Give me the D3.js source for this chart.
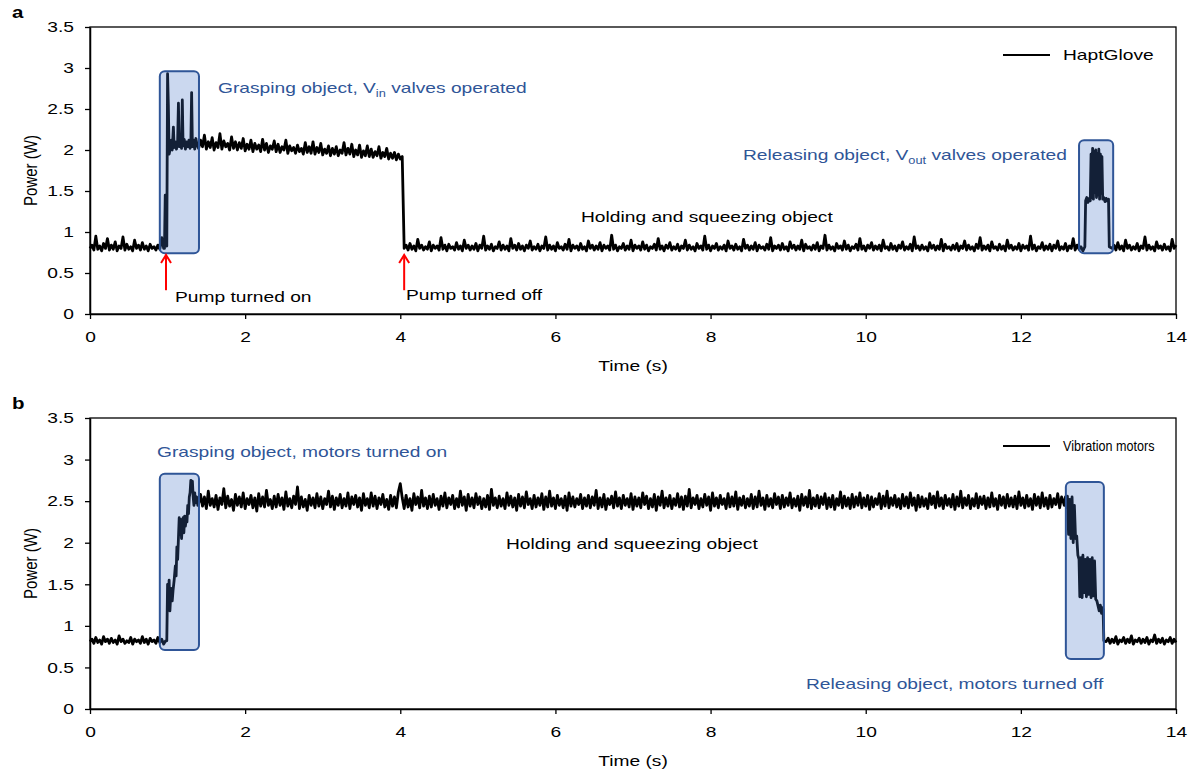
<!DOCTYPE html>
<html>
<head>
<meta charset="utf-8">
<script src="https://cdn.jsdelivr.net/npm/d3@7"></script>
<style>
  body { margin: 0; background: #fff; }
  text { font-family: "Liberation Sans", Arial, sans-serif; }
</style>
</head>
<body>
<svg id="chart" width="1196" height="776"></svg>
<script>
// sampling step of the evenly spaced stretches (s)
const dt = 0.025;

// ---- panel a : HaptGlove power (W) ----
// idle before the pump starts, from 0 s
const haptIdleBefore = [0.80,0.84,0.78,0.95,0.79,0.83,0.77,0.86,0.80,0.92,0.78,0.84,0.79,0.88,0.77,0.83,0.80,0.94,0.78,0.85,
  0.79,0.82,0.77,0.90,0.80,0.84,0.78,0.87,0.79,0.83,0.77,0.85,0.80,0.82,0.78,0.84,0.79,0.93,0.80];
// grasping, Vin valves operated
const haptGraspTime  = [0.96,0.97,0.975,0.99,1.0,1.01,1.02,1.035,1.05,1.06,1.075,1.085,1.1,1.115,1.13,1.14,1.15,1.165,1.18,1.19,1.2,1.215,1.23,1.245,1.26,1.275,1.29,1.3,1.31,1.32,1.335,1.35,1.365,1.38];
const haptGraspPower = [0.80,1.45,0.86,0.83,2.93,2.55,1.95,2.02,2.12,2.00,2.28,2.03,2.10,2.01,2.12,2.57,2.04,2.11,2.02,2.61,2.05,2.13,2.01,2.10,2.04,2.12,2.02,2.08,2.70,2.04,2.12,2.01,2.14,2.06];
// pump running, from 1.4 s
const haptHold = [2.02,2.12,2.04,2.18,2.01,2.10,2.03,2.15,2.00,2.09, 2.03,2.20,2.01,2.11,2.04,2.08,2.00,2.16,2.02,2.10,
  2.00,2.09,2.02,2.14,1.99,2.07,2.01,2.12,1.98,2.08, 2.01,2.06,1.98,2.13,2.00,2.08,1.97,2.05,2.01,2.11,
  1.98,2.07,1.97,2.04,2.00,2.12,1.96,2.05,1.99,2.03, 1.96,2.06,1.98,2.02,1.95,2.09,1.97,2.04,1.96,2.10,
  1.95,2.03,1.97,2.08,1.94,2.01,1.96,2.05,1.93,2.02, 1.95,2.04,1.93,2.00,1.96,2.09,1.94,2.02,1.95,2.07,
  1.92,2.00,1.94,2.06,1.91,1.99,1.93,2.05,1.92,2.01, 1.91,1.98,1.93,2.04,1.90,1.97,1.92,2.02,1.89,1.96,
  1.90,1.97,1.88,1.95,1.89,1.92];
// holding and squeezing, from 4.05 s
const haptIdle = [0.80,0.84,0.78,0.86,0.79,0.83,0.77,0.91,0.80,0.84,0.78,0.82,0.79,0.88,0.77,0.84,0.80,0.83,0.78,0.93,
  0.79,0.84,0.77,0.85,0.80,0.82,0.78,0.87,0.79,0.83,0.77,0.90,0.80,0.84,0.78,0.83,0.79,0.86,0.77,0.84,
  0.80,0.95,0.78,0.83,0.79,0.85,0.77,0.82,0.80,0.88,0.78,0.84,0.79,0.83,0.77,0.92,0.80,0.84,0.78,0.86,
  0.79,0.83,0.77,0.84,0.80,0.89,0.78,0.82,0.79,0.85,0.77,0.83,0.80,0.94,0.78,0.84,0.79,0.83,0.77,0.87,
  0.80,0.82,0.78,0.85,0.79,0.91,0.77,0.84,0.80,0.83,0.78,0.86,0.79,0.82,0.77,0.89,0.80,0.84,0.78,0.83,
  0.79,0.87,0.77,0.84,0.80,0.83,0.78,0.96,0.79,0.84,0.77,0.82,0.80,0.86,0.78,0.83,0.79,0.90,0.77,0.84,
  0.80,0.83,0.78,0.88,0.79,0.84,0.77,0.82,0.80,0.85,0.78,0.92,0.79,0.83,0.77,0.84,0.80,0.87,0.78,0.82,
  0.79,0.85,0.77,0.83,0.80,0.90,0.78,0.84,0.79,0.82,0.77,0.86,0.80,0.83,0.78,0.95,0.79,0.84,0.77,0.83,
  0.80,0.86,0.78,0.82,0.79,0.84,0.77,0.89,0.80,0.83,0.78,0.85,0.79,0.82,0.77,0.91,0.80,0.84,0.78,0.83,
  0.79,0.87,0.77,0.84,0.80,0.82,0.78,0.85,0.79,0.93,0.77,0.83,0.80,0.84,0.78,0.86,0.79,0.82,0.77,0.88,
  0.80,0.84,0.78,0.83,0.79,0.90,0.77,0.85,0.80,0.82,0.78,0.84,0.79,0.87,0.77,0.83,0.80,0.96,0.78,0.84,
  0.79,0.82,0.77,0.86,0.80,0.83,0.78,0.89,0.79,0.84,0.77,0.82,0.80,0.85,0.78,0.92,0.79,0.83,0.77,0.84,
  0.80,0.87,0.78,0.83,0.79,0.84,0.77,0.90,0.80,0.82,0.78,0.86,0.79,0.83,0.77,0.84,0.80,0.88,0.78,0.82,
  0.79,0.85,0.77,0.94,0.80,0.83,0.78,0.84,0.79,0.82,0.77,0.87,0.80,0.84,0.78,0.83,0.79,0.91,0.77,0.85,
  0.80,0.82,0.78,0.84,0.79,0.86,0.77,0.83,0.80,0.89,0.78,0.84,0.79,0.82,0.77,0.85,0.80,0.93,0.78,0.83,
  0.79,0.84,0.77,0.88,0.80,0.82,0.78,0.85,0.79,0.83,0.77,0.90,0.80,0.84,0.78,0.82,0.79,0.86,0.77,0.84,
  0.80,0.83,0.78,0.95,0.79,0.84,0.77,0.82,0.80,0.87,0.78,0.83,0.79,0.85,0.77,0.84,0.80,0.89,0.78,0.82,
  0.79,0.86,0.77,0.83,0.80,0.92,0.78,0.84,0.79,0.82,0.77];
// releasing, Vout valves operated
const haptReleaseTime  = [12.825,12.835,12.85,12.865,12.88,12.895,12.905,12.915,12.925,12.935,12.945,12.955,12.965,12.975,12.985,12.995,13.005,13.015,13.025,13.035,13.045,13.055,13.07,13.085,13.1,13.115,13.13,13.14];
const haptReleasePower = [0.82,1.38,1.42,1.36,1.41,1.38,1.95,1.42,2.02,1.40,1.98,1.48,2.00,1.42,1.96,1.45,2.01,1.40,1.95,1.47,1.92,1.40,1.42,1.37,1.41,1.38,1.40,0.82];
// idle after release, from 13.175 s
const haptIdleAfter = [0.80,0.84,0.78,0.87,0.79,0.83,0.77,0.90,0.80,0.84,0.78,0.82,0.79,0.86,0.77,0.83,0.80,0.94,0.78,0.84,
  0.79,0.82,0.77,0.88,0.80,0.83,0.78,0.85,0.79,0.82,0.77,0.91,0.80,0.84];
const haptBoxTime  = [[0.90, 1.405], [12.75, 13.19]];
const haptBoxPower = [[0.74, 2.96], [0.74, 2.12]];

// ---- panel b : vibration motors power (W) ----
// idle, from 0 s
const motorIdleBefore = [0.81,0.84,0.79,0.86,0.80,0.83,0.78,0.87,0.81,0.84,0.79,0.85,0.80,0.83,0.78,0.88,0.81,0.84,0.79,0.82,
  0.80,0.86,0.78,0.84,0.81,0.83,0.79,0.87,0.80,0.84,0.78,0.85,0.81,0.83,0.79,0.86,0.80,0.84,0.78,0.82];
// grasping, motors turned on
const motorGraspTime  = [0.99,1.0,1.01,1.02,1.03,1.045,1.06,1.07,1.085,1.1,1.11,1.12,1.13,1.14,1.15,1.16,1.17,1.18,1.19,1.2,1.21,1.22,1.23,1.24,1.25,1.26,1.27,1.28,1.29,1.3,1.31,1.32,1.33,1.34,1.35,1.36,1.375,1.39];
const motorGraspPower = [0.82,1.50,1.25,1.55,1.18,1.45,1.30,1.42,1.55,1.72,1.60,1.95,1.80,2.05,2.30,2.10,2.28,2.05,2.20,2.30,2.12,2.32,2.20,2.30,2.25,2.45,2.35,2.55,2.60,2.75,2.62,2.74,2.55,2.45,2.60,2.48,2.55,2.45];
// holding and squeezing, from 1.4 s
const motorRunning = [2.47,2.58,2.44,2.55,2.41,2.62,2.45,2.53,2.43,2.57,2.40,2.54,2.46,2.65,2.42,2.56,2.44,2.52,2.39,2.58,
  2.45,2.55,2.43,2.60,2.41,2.53,2.46,2.57,2.42,2.54,2.38,2.59,2.44,2.55,2.43,2.63,2.45,2.52,2.41,2.56,
  2.43,2.58,2.45,2.54,2.40,2.61,2.44,2.53,2.42,2.56,2.46,2.67,2.41,2.55,2.43,2.52,2.39,2.57,2.45,2.54,
  2.42,2.59,2.44,2.55,2.41,2.53,2.46,2.62,2.43,2.56,2.40,2.54,2.45,2.58,2.42,2.53,2.44,2.60,2.41,2.55,
  2.46,2.57,2.43,2.54,2.39,2.59,2.45,2.53,2.42,2.60,2.44,2.56,2.41,2.54,2.46,2.58,2.43,2.52,2.40,2.57,
  2.44,2.55,2.42,2.61,2.71,2.54,2.41,2.57,2.43,2.53,2.39,2.59,2.46,2.55,2.42,2.63,2.44,2.54,2.41,2.56,
  2.43,2.58,2.45,2.53,2.40,2.56,2.44,2.60,2.42,2.54,2.46,2.57,2.41,2.53,2.43,2.62,2.45,2.55,2.39,2.58,
  2.44,2.54,2.42,2.59,2.46,2.55,2.41,2.53,2.43,2.57,2.40,2.64,2.45,2.54,2.42,2.56,2.44,2.53,2.41,2.60,
  2.45,2.56,2.43,2.54,2.39,2.58,2.44,2.55,2.42,2.61,2.46,2.53,2.41,2.57,2.43,2.54,2.45,2.59,2.40,2.55,
  2.43,2.62,2.44,2.54,2.41,2.57,2.45,2.53,2.42,2.56,2.39,2.60,2.44,2.55,2.43,2.53,2.46,2.58,2.41,2.54,
  2.44,2.57,2.42,2.55,2.45,2.63,2.41,2.54,2.43,2.58,2.40,2.53,2.46,2.56,2.42,2.61,2.44,2.54,2.41,2.57,
  2.45,2.53,2.43,2.59,2.40,2.55,2.44,2.54,2.42,2.60,2.46,2.56,2.41,2.53,2.43,2.58,2.39,2.55,2.45,2.62,
  2.42,2.54,2.44,2.57,2.41,2.53,2.45,2.59,2.43,2.55,2.40,2.56,2.44,2.64,2.42,2.54,2.46,2.57,2.41,2.53,
  2.43,2.58,2.45,2.55,2.39,2.60,2.44,2.54,2.42,2.57,2.46,2.53,2.41,2.59,2.43,2.55,2.44,2.61,2.40,2.54,
  2.45,2.56,2.42,2.53,2.44,2.58,2.41,2.55,2.43,2.62,2.45,2.54,2.40,2.57,2.44,2.53,2.42,2.59,2.46,2.55,
  2.41,2.57,2.43,2.54,2.45,2.60,2.42,2.53,2.44,2.56,2.39,2.58,2.45,2.55,2.43,2.63,2.41,2.54,2.44,2.57,
  2.42,2.55,2.46,2.59,2.41,2.54,2.43,2.57,2.40,2.53,2.45,2.61,2.42,2.56,2.44,2.54,2.41,2.58,2.43,2.55,
  2.45,2.60,2.42,2.54,2.44,2.57,2.40,2.55,2.43,2.53,2.46,2.59,2.41,2.56,2.44,2.62,2.42,2.54,2.45,2.57,
  2.43,2.53,2.41,2.58,2.44,2.55,2.42,2.60,2.45,2.54,2.39,2.57,2.43,2.55,2.44,2.53,2.41,2.59,2.46,2.56,
  2.42,2.61,2.44,2.54,2.41,2.57,2.45,2.53,2.43,2.58,2.40,2.55,2.44,2.62,2.42,2.54,2.45,2.57,2.41,2.53,
  2.44,2.59,2.42,2.55,2.46,2.56,2.41,2.54,2.43,2.60,2.44,2.53,2.40,2.57,2.45,2.55,2.42,2.58,2.44,2.54,
  2.43,2.56,2.41,2.61,2.45,2.54,2.42,2.57,2.44,2.53,
  2.40,2.58,2.45,2.55,2.42,2.60,2.44,2.54,2.41,2.57,2.43,2.53,2.46,2.59,2.42,2.55,2.48];
// releasing, motors turned off
const motorReleaseTime  = [12.56,12.575,12.59,12.6,12.615,12.63,12.645,12.66,12.675,12.69,12.705,12.72,12.735,12.75,12.76,12.775,12.79,12.8,12.815,12.83,12.845,12.86,12.875,12.89,12.905,12.92,12.935,12.95,12.965,12.98,12.995,13.01,13.025,13.04,13.05,13.06,13.07];
const motorReleasePower = [2.45,2.55,2.42,2.56,2.10,2.52,2.05,2.55,2.00,2.45,2.05,2.08,1.85,1.80,1.35,1.82,1.34,1.85,1.40,1.80,1.35,1.82,1.38,1.80,1.34,1.82,1.36,1.78,1.32,1.30,1.24,1.18,1.25,1.15,1.22,1.20,0.82];
// idle, from 13.1 s
const motorIdleAfter = [0.81,0.85,0.79,0.84,0.80,0.87,0.78,0.83,0.81,0.86,0.79,0.84,0.80,0.88,0.78,0.83,0.81,0.85,0.79,0.84,
  0.80,0.86,0.78,0.83,0.81,0.89,0.79,0.84,0.80,0.85,0.78,0.83,0.81,0.86,0.79,0.84,0.80];
const motorBoxTime  = [[0.90, 1.405], [12.58, 13.07]];
const motorBoxPower = [[0.71, 2.83], [0.60, 2.73]];

const timeTicks  = [0, 2, 4, 6, 8, 10, 12, 14];
const powerTicks = [0, 0.5, 1, 1.5, 2, 2.5, 3, 3.5];

// ---- build the series ----
const even   = (t0, vals) => vals.map((w, i) => ({ t: t0 + i * dt, w }));
const paired = (ts, ws) => ts.map((t, i) => ({ t, w: ws[i] }));

const haptData = [].concat(
  even(0, haptIdleBefore), paired(haptGraspTime, haptGraspPower), even(1.4, haptHold),
  even(4.05, haptIdle), paired(haptReleaseTime, haptReleasePower), even(13.175, haptIdleAfter));
const motorData = [].concat(
  even(0, motorIdleBefore), paired(motorGraspTime, motorGraspPower), even(1.4, motorRunning),
  paired(motorReleaseTime, motorReleasePower), even(13.1, motorIdleAfter));

const blue = "#2F5597";
const sx = 1.28;   // the source figure is stretched horizontally, text too
const svg = d3.select("#chart");

function note(g, x, y, parts, color, size, anchor, stretch) {
  const t = g.append("text")
    .attr("transform", `translate(${x},${y}) scale(${stretch || sx},1)`)
    .attr("font-size", size || 15)
    .attr("fill", color || "#000")
    .attr("text-anchor", anchor || "start");
  parts.forEach((p, i) => {
    if (typeof p === "string") {
      t.append("tspan").attr("dy", i > 0 && typeof parts[i - 1] !== "string" ? -4 : null).text(p);
    } else {
      t.append("tspan").attr("font-size", 10).attr("dy", 4).text(p.sub);
    }
  });
  return t;
}

const panels = [
  {
    letter: "a", top: 27, bottom: 314, data: haptData, legend: "HaptGlove", legendStretch: sx,
    boxT: haptBoxTime, boxW: haptBoxPower,
    arrows: [0.98, 4.05],
    notes: [
      { x: 218, y: 93, parts: ["Grasping object, V", { sub: "in" }, " valves operated"], color: blue },
      { x: 743, y: 160, parts: ["Releasing object, V", { sub: "out" }, " valves operated"], color: blue },
      { x: 581, y: 222, parts: ["Holding and squeezing object"] },
      { x: 175, y: 302, parts: ["Pump turned on"] },
      { x: 406, y: 300, parts: ["Pump turned off"] }
    ]
  },
  {
    letter: "b", top: 418, bottom: 709, data: motorData, legend: "Vibration motors", legendStretch: 0.84,
    boxT: motorBoxTime, boxW: motorBoxPower,
    arrows: [],
    notes: [
      { x: 157, y: 457, parts: ["Grasping object, motors turned on"], color: blue },
      { x: 506, y: 549, parts: ["Holding and squeezing object"] },
      { x: 806, y: 689, parts: ["Releasing object, motors turned off"], color: blue }
    ]
  }
];

panels.forEach(p => {
  const x = d3.scaleLinear().domain([0, 14]).range([90, 1176]);
  const y = d3.scaleLinear().domain([0, 3.5]).range([p.bottom, p.top]);
  const g = svg.append("g");

  // frame
  g.append("rect")
    .attr("x", x(0)).attr("y", y(3.5))
    .attr("width", x(14) - x(0)).attr("height", y(0) - y(3.5))
    .attr("fill", "none").attr("stroke", "#000").attr("stroke-width", 1.3);

  // axes
  const xAxis = g.append("g")
    .attr("transform", `translate(0,${y(0)})`)
    .call(d3.axisBottom(x).tickValues(timeTicks).tickSize(5).tickSizeOuter(0).tickPadding(12).tickFormat(d3.format("d")));
  const yAxis = g.append("g")
    .attr("transform", `translate(${x(0)},0)`)
    .call(d3.axisLeft(y).tickValues(powerTicks).tickSize(5).tickSizeOuter(0).tickFormat(d3.format("~g")));
  [xAxis, yAxis].forEach(a => {
    a.attr("font-size", null).attr("font-family", null);
    a.select(".domain").attr("stroke", "#000").attr("stroke-width", 1.5);
    a.selectAll(".tick line").attr("stroke", "#000").attr("stroke-width", 1.3);
    a.selectAll(".tick text").attr("font-size", 15).attr("fill", "#000");
  });
  xAxis.selectAll(".tick text").attr("transform", `scale(${sx},1)`);
  yAxis.selectAll(".tick text").attr("x", -16 / sx).attr("transform", `scale(${sx},1)`);

  // axis titles
  note(g, (x(0) + x(14)) / 2, y(0) + 57, ["Time (s)"], "#000", 15, "middle");
  g.append("text")
    .attr("transform", `translate(30.5,${(y(0) + y(3.5)) / 2}) scale(${sx},1) rotate(-90)`)
    .attr("text-anchor", "middle").attr("dy", "0.35em")
    .attr("font-size", 15).text("Power (W)");
  note(g, 12, p.top - 9, ["" + p.letter], "#000", 16).attr("font-weight", "bold");

  // power trace
  g.append("path")
    .datum(p.data)
    .attr("d", d3.line().x(d => x(d.t)).y(d => y(d.w)))
    .attr("fill", "none").attr("stroke", "#000")
    .attr("stroke-width", 2.8).attr("stroke-linejoin", "round");

  // highlighted phases
  g.selectAll(".phase")
    .data(p.boxT.map((bt, i) => ({ t: bt, w: p.boxW[i] })))
    .join("rect")
    .attr("class", "phase")
    .attr("x", d => x(d.t[0])).attr("y", d => y(d.w[1]))
    .attr("width", d => x(d.t[1]) - x(d.t[0])).attr("height", d => y(d.w[0]) - y(d.w[1]))
    .attr("rx", 5)
    .attr("fill", "#4472C4").attr("fill-opacity", 0.28)
    .attr("stroke", blue).attr("stroke-width", 2);

  // red arrows
  p.arrows.forEach(t => {
    const ax = x(t), y0 = y(0.29), y1 = y(0.72);
    g.append("line").attr("x1", ax).attr("x2", ax).attr("y1", y0).attr("y2", y1 + 1)
      .attr("stroke", "#ff0000").attr("stroke-width", 2);
    g.append("path").attr("d", `M${ax - 5},${y1 + 8}L${ax},${y1}L${ax + 5},${y1 + 8}`)
      .attr("fill", "none").attr("stroke", "#ff0000").attr("stroke-width", 2);
  });

  // legend
  const ly = p.top + 28;
  g.append("line").attr("x1", 1003).attr("x2", 1050).attr("y1", ly).attr("y2", ly)
    .attr("stroke", "#000").attr("stroke-width", 2);
  note(g, 1063, ly + 5, [p.legend], "#000", 15, "start", p.legendStretch);

  // annotations
  p.notes.forEach(n => note(g, n.x, n.y, n.parts, n.color));
});
</script>
</body>
</html>
